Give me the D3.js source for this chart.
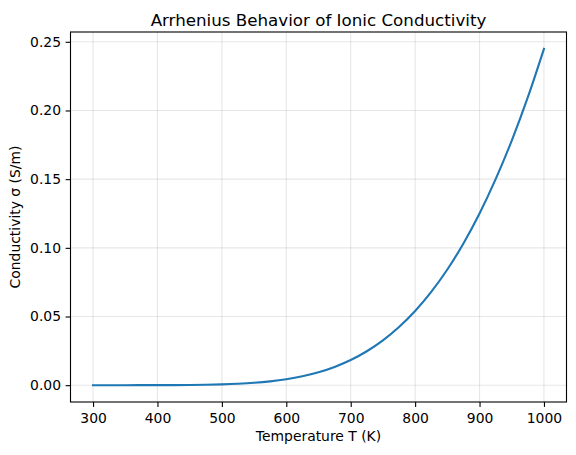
<!DOCTYPE html>
<html>
<head>
<meta charset="utf-8">
<script src="https://cdn.jsdelivr.net/npm/d3@7"></script>
<style>
  body { margin: 0; background: #fff; }
  svg { display: block; font-family: "DejaVu Sans", sans-serif; }
</style>
</head>
<body>
<div id="container"></div>
<script>
// temperatures (K) and conductivity (S/m)
const temps = [300, 325, 350, 375, 400, 425, 450, 475, 500, 525, 550, 575, 600, 625, 650,
  675, 700, 725, 750, 775, 800, 825, 850, 875, 900, 925, 950, 975, 1000];
const sigma = [0.0000002, 0.0000009, 0.0000032, 0.0000102, 0.000028, 0.000068, 0.000151,
  0.000305, 0.000577, 0.00103, 0.00173, 0.0028, 0.00434, 0.0065, 0.00942, 0.0133,
  0.0183, 0.0247, 0.0326, 0.0423, 0.054, 0.0679, 0.0842, 0.1032, 0.125, 0.15,
  0.1781, 0.2097, 0.2449];
const xTicks = [300, 400, 500, 600, 700, 800, 900, 1000];
const yTicks = [0, 0.05, 0.1, 0.15, 0.2, 0.25];

const width = 576;
const height = 455;
const margin = { left: 70.5, right: 9.5, top: 32, bottom: 53 };

const data = temps.map((t, i) => ({ t: t, s: sigma[i] }));

const svg = d3.select("#container")
  .append("svg")
  .attr("width", width)
  .attr("height", height);

// matplotlib style 5% padding around the data
const xPad = (d3.max(temps) - d3.min(temps)) * 0.05;
const yPad = (d3.max(sigma) - d3.min(sigma)) * 0.05;

const xScale = d3.scaleLinear()
  .domain([d3.min(temps) - xPad, d3.max(temps) + xPad])
  .range([margin.left, width - margin.right]);

const yScale = d3.scaleLinear()
  .domain([d3.min(sigma) - yPad, d3.max(sigma) + yPad])
  .range([height - margin.bottom, margin.top]);

// grid
svg.append("g")
  .selectAll("line")
  .data(xTicks)
  .enter()
  .append("line")
  .attr("x1", d => xScale(d))
  .attr("x2", d => xScale(d))
  .attr("y1", margin.top)
  .attr("y2", height - margin.bottom)
  .attr("stroke", "#b0b0b0")
  .attr("stroke-opacity", 0.3)
  .attr("stroke-width", 1.1);

svg.append("g")
  .selectAll("line")
  .data(yTicks)
  .enter()
  .append("line")
  .attr("x1", margin.left)
  .attr("x2", width - margin.right)
  .attr("y1", d => yScale(d))
  .attr("y2", d => yScale(d))
  .attr("stroke", "#b0b0b0")
  .attr("stroke-opacity", 0.3)
  .attr("stroke-width", 1.1);

// axes
const xAxis = d3.axisBottom(xScale)
  .tickValues(xTicks)
  .tickSize(4.9)
  .tickPadding(6)
  .tickFormat(d3.format("d"));

const yAxis = d3.axisLeft(yScale)
  .tickValues(yTicks)
  .tickSize(4.9)
  .tickPadding(4.6)
  .tickFormat(d3.format(".2f"));

const gx = svg.append("g")
  .attr("transform", `translate(0, ${height - margin.bottom})`)
  .call(xAxis);

const gy = svg.append("g")
  .attr("transform", `translate(${margin.left}, 0)`)
  .call(yAxis);

[gx, gy].forEach(g => {
  g.select(".domain").remove();
  g.selectAll(".tick line").attr("stroke", "#000").attr("stroke-width", 1.1);
  g.selectAll(".tick text")
    .attr("fill", "#000")
    .style("font-family", "DejaVu Sans")
    .style("font-size", "13.9px");
});

// frame
svg.append("rect")
  .attr("x", margin.left)
  .attr("y", margin.top)
  .attr("width", width - margin.left - margin.right)
  .attr("height", height - margin.top - margin.bottom)
  .attr("fill", "none")
  .attr("stroke", "#000")
  .attr("stroke-width", 1.1);

// curve
const line = d3.line()
  .x(d => xScale(d.t))
  .y(d => yScale(d.s))
  .curve(d3.curveMonotoneX);

svg.append("path")
  .datum(data)
  .attr("d", line)
  .attr("fill", "none")
  .attr("stroke", "#1f77b4")
  .attr("stroke-width", 2.1)
  .attr("stroke-linecap", "square");

// labels
const cx = (margin.left + width - margin.right) / 2;
const cy = (margin.top + height - margin.bottom) / 2;

svg.append("text")
  .attr("x", cx)
  .attr("y", 25.5)
  .attr("text-anchor", "middle")
  .style("font-size", "16.7px")
  .text("Arrhenius Behavior of Ionic Conductivity");

svg.append("text")
  .attr("x", cx)
  .attr("y", 441)
  .attr("text-anchor", "middle")
  .style("font-size", "13.9px")
  .text("Temperature T (K)");

svg.append("text")
  .attr("transform", `translate(20, ${cy}) rotate(-90)`)
  .attr("text-anchor", "middle")
  .style("font-size", "13.9px")
  .text("Conductivity σ (S/m)");
</script>
</body>
</html>
